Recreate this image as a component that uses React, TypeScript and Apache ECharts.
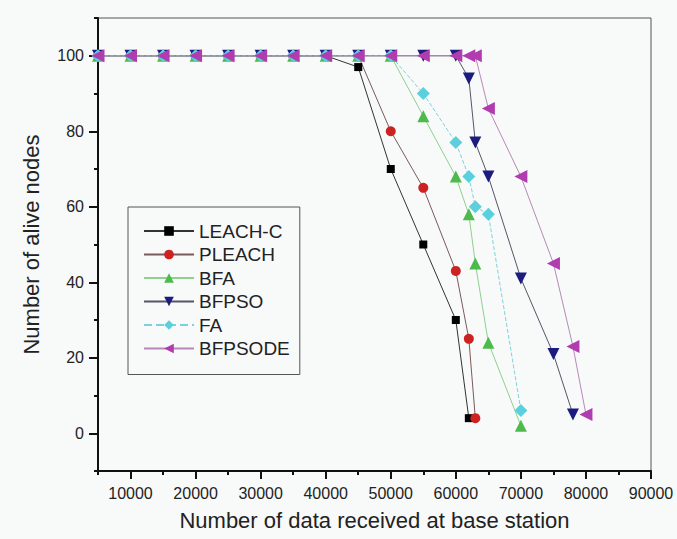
import React, { useEffect, useRef } from "react";
import * as echarts from "echarts";

const seriesNames = ["LEACH-C", "PLEACH", "BFA", "BFPSO", "FA", "BFPSODE"];

const leachX = [5000, 10000, 15000, 20000, 25000, 30000, 35000, 40000, 45000, 50000, 55000, 60000, 62000];
const leachY = [100, 100, 100, 100, 100, 100, 100, 100, 97, 70, 50, 30, 4];

const pleachX = [5000, 10000, 15000, 20000, 25000, 30000, 35000, 40000, 45000, 50000, 55000, 60000, 62000, 63000];
const pleachY = [100, 100, 100, 100, 100, 100, 100, 100, 100, 80, 65, 43, 25, 4];

const bfaX = [5000, 10000, 15000, 20000, 25000, 30000, 35000, 40000, 45000, 50000, 55000, 60000, 62000, 63000, 65000, 70000];
const bfaY = [100, 100, 100, 100, 100, 100, 100, 100, 100, 100, 84, 68, 58, 45, 24, 2];

const bfpsoX = [5000, 10000, 15000, 20000, 25000, 30000, 35000, 40000, 45000, 50000, 55000, 60000, 62000, 63000, 65000, 70000, 75000, 78000];
const bfpsoY = [100, 100, 100, 100, 100, 100, 100, 100, 100, 100, 100, 100, 94, 77, 68, 41, 21, 5];

const faX = [5000, 10000, 15000, 20000, 25000, 30000, 35000, 40000, 45000, 50000, 55000, 60000, 62000, 63000, 65000, 70000];
const faY = [100, 100, 100, 100, 100, 100, 100, 100, 100, 100, 90, 77, 68, 60, 58, 6];

const bfpsodeX = [5000, 10000, 15000, 20000, 25000, 30000, 35000, 40000, 45000, 50000, 55000, 60000, 62000, 63000, 65000, 70000, 75000, 78000, 80000];
const bfpsodeY = [100, 100, 100, 100, 100, 100, 100, 100, 100, 100, 100, 100, 100, 100, 86, 68, 45, 23, 5];

const xMajorTicks = [10000, 20000, 30000, 40000, 50000, 60000, 70000, 80000, 90000];
const yMajorTicks = [0, 20, 40, 60, 80, 100];

const FONT = "Liberation Sans, Arial, Helvetica, sans-serif";

const zip = (xs: number[], ys: number[]) => xs.map((x, i) => [x, ys[i]]);

export default function App() {
  const ref = useRef<HTMLDivElement>(null);
  useEffect(() => {
    if (!ref.current) return;
    const chart = echarts.init(ref.current, null, { renderer: "svg" });

    const mk = (
      name: string,
      xs: number[],
      ys: number[],
      symbol: string,
      symbolSize: number,
      symbolRotate: number,
      markerColor: string,
      lineColor: string,
      lineType: string = "solid"
    ) => ({
      type: "line",
      name,
      data: zip(xs, ys),
      symbol,
      symbolSize,
      symbolRotate,
      showAllSymbol: true,
      itemStyle: { color: markerColor, borderWidth: 0 },
      lineStyle: { color: lineColor, width: 1, type: lineType },
      emphasis: { disabled: true },
      z: 3,
    });

    chart.setOption({
      animation: false,
      backgroundColor: "#f8f9f9",
      textStyle: { fontFamily: FONT },
      grid: {
        left: 98,
        right: 26,
        top: 18,
        bottom: 68,
        show: true,
        borderColor: "#555",
        borderWidth: 1,
        backgroundColor: "transparent",
      },
      legend: {
        orient: "vertical",
        left: 128,
        top: 207,
        data: seriesNames,
        backgroundColor: "#f8f9f9",
        borderColor: "#555",
        borderWidth: 1,
        borderRadius: 0,
        padding: [14, 10, 16, 15],
        itemWidth: 50,
        itemHeight: 12,
        itemGap: 3.5,
        textStyle: { fontFamily: FONT, fontSize: 19, color: "#222", lineHeight: 20 },
      },
      xAxis: [
        {
          type: "value",
          min: 5000,
          max: 90000,
          interval: 5000,
          name: "Number of data received at base station",
          nameLocation: "middle",
          nameGap: 38,
          nameTextStyle: { fontFamily: FONT, fontSize: 22, color: "#222" },
          axisLine: { show: true, onZero: false, lineStyle: { color: "#111", width: 2 } },
          axisTick: { show: true, length: 4, lineStyle: { color: "#111", width: 2 } },
          axisLabel: {
            fontFamily: FONT,
            fontSize: 16,
            color: "#222",
            margin: 14,
            formatter: (v: number) => (v % 10000 === 0 ? String(v) : ""),
          },
          splitLine: { show: false },
        },
        {
          type: "value",
          min: 5000,
          max: 90000,
          position: "bottom",
          axisLine: { show: false, onZero: false },
          axisTick: { show: true, length: 8, customValues: xMajorTicks, lineStyle: { color: "#111", width: 2 } },
          axisLabel: { show: false },
          splitLine: { show: false },
        },
      ],
      yAxis: [
        {
          type: "value",
          min: -10,
          max: 110,
          interval: 10,
          name: "Number of alive nodes",
          nameLocation: "middle",
          nameGap: 56,
          nameTextStyle: { fontFamily: FONT, fontSize: 22, color: "#222" },
          axisLine: { show: true, onZero: false, lineStyle: { color: "#111", width: 2 } },
          axisTick: { show: true, length: 4, lineStyle: { color: "#111", width: 2 } },
          axisLabel: {
            fontFamily: FONT,
            fontSize: 16,
            color: "#222",
            margin: 14,
            formatter: (v: number) => (v >= 0 && v % 20 === 0 ? String(v) : ""),
          },
          splitLine: { show: false },
        },
        {
          type: "value",
          min: -10,
          max: 110,
          position: "left",
          axisLine: { show: false, onZero: false },
          axisTick: { show: true, length: 9, customValues: yMajorTicks, lineStyle: { color: "#111", width: 2 } },
          axisLabel: { show: false },
          splitLine: { show: false },
        },
      ],
      series: [
        mk("LEACH-C", leachX, leachY, "rect", 8, 0, "#000000", "#333333"),
        mk("PLEACH", pleachX, pleachY, "circle", 10, 0, "#cc2222", "#7a5a5a"),
        mk("BFA", bfaX, bfaY, "triangle", 12, 0, "#4cbb4c", "#8fcf8f"),
        mk("BFPSO", bfpsoX, bfpsoY, "triangle", 12, 180, "#1c1c80", "#555566"),
        mk("FA", faX, faY, "diamond", 13, 0, "#5ccfdc", "#7fd0dd", "dashed"),
        mk("BFPSODE", bfpsodeX, bfpsodeY, "triangle", 13, 90, "#b03cb0", "#b888b8"),
      ],
    });
    return () => chart.dispose();
  }, []);
  return (
    <div
      ref={ref}
      style={{ position: "absolute", left: 0, top: 0, width: 677, height: 539 }}
    />
  );
}
